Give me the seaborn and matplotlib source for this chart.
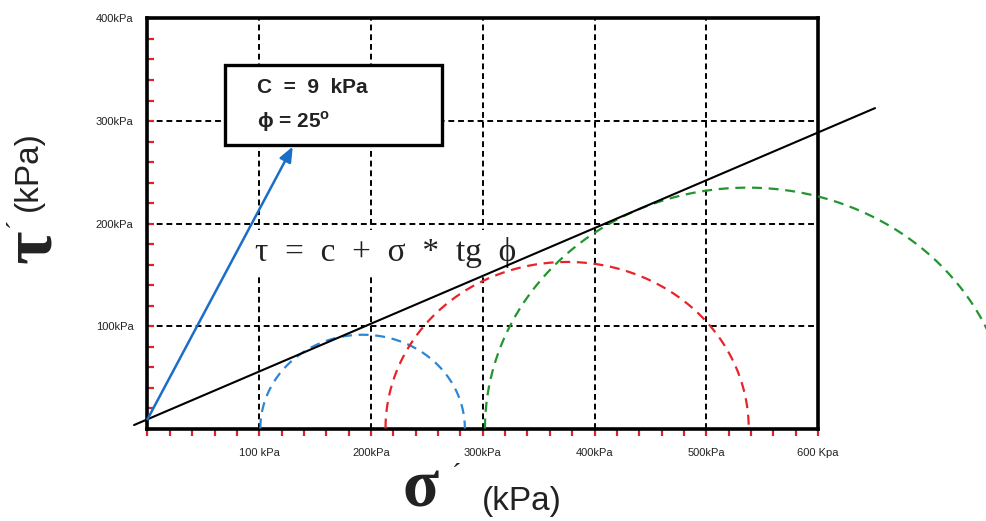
import numpy as np
import pandas as pd
import matplotlib
matplotlib.use("Agg")
import matplotlib.pyplot as plt
from matplotlib.ticker import MultipleLocator, FixedLocator
from matplotlib.patches import Rectangle
import seaborn as sns

# Mohr-Coulomb strength parameters
cohesion = 9.0          # kPa
friction_angle = 25.0   # degrees

# Triaxial tests: minor and major effective principal stresses (kPa)
sigma3 = [101, 213, 302]
sigma1 = [284, 538, 772]
test_names = ["Test 1", "Test 2", "Test 3"]
circle_colors = ["#2b86d6", "#e8232a", "#22952f"]

# Extent of the failure envelope along the sigma axis (kPa)
envelope_sigma = [-12, 651]

x_ticks = [0, 100, 200, 300, 400, 500, 600]
x_tick_labels = ["", "100 kPa", "200kPa", "300kPa", "400kPa", "500kPa", "600 Kpa"]
y_ticks = [0, 100, 200, 300, 400]
y_tick_labels = ["", "100kPa", "200kPa", "300kPa", "400kPa"]

sns.set_theme(style="white")
plt.rcParams["font.family"] = ["Liberation Sans", "DejaVu Sans"]
plt.rcParams["mathtext.fontset"] = "custom"
plt.rcParams["mathtext.rm"] = "Liberation Sans"
plt.rcParams["mathtext.sf"] = "Liberation Sans:bold"
plt.rcParams["mathtext.bf"] = "Liberation Serif:bold"

fig = plt.figure(figsize=(9.87, 5.21), dpi=100)
ax = fig.add_axes([0.1494, 0.1775, 0.6794, 0.787])

# Mohr circles (upper halves)
theta = np.linspace(0, np.pi, 181)
frames = []
for name, s3, s1 in zip(test_names, sigma3, sigma1):
    centre = (s1 + s3) / 2
    radius = (s1 - s3) / 2
    frames.append(pd.DataFrame({
        "sigma": centre - radius * np.cos(theta),
        "tau": radius * np.sin(theta),
        "test": name,
    }))
circles = pd.concat(frames, ignore_index=True)

sns.lineplot(data=circles, x="sigma", y="tau", hue="test",
             palette=dict(zip(test_names, circle_colors)),
             estimator=None, sort=False, errorbar=None, legend=False,
             linewidth=1.6, linestyle=(0, (4.5, 3)), clip_on=False,
             zorder=3, ax=ax)

# Failure envelope tau = c + sigma * tan(phi)
env = pd.DataFrame({"sigma": envelope_sigma})
env["tau"] = cohesion + env["sigma"] * np.tan(np.radians(friction_angle))
sns.lineplot(data=env, x="sigma", y="tau", color="black", linewidth=1.5,
             estimator=None, sort=False, errorbar=None, clip_on=False,
             zorder=4, ax=ax)

# Axes, grid and ticks
ax.set_xlim(0, 600)
ax.set_ylim(0, 400)
ax.set_xlabel("")
ax.set_ylabel("")
ax.xaxis.set_major_locator(FixedLocator(x_ticks))
ax.yaxis.set_major_locator(FixedLocator(y_ticks))
ax.set_xticklabels(x_tick_labels)
ax.set_yticklabels(y_tick_labels)
ax.xaxis.set_minor_locator(MultipleLocator(20))
ax.yaxis.set_minor_locator(MultipleLocator(20))
ax.set_axisbelow(True)
ax.grid(True, which="major", color="black", linestyle=(0, (3, 2)), linewidth=1.4)
ax.grid(False, which="minor")

tick_red = "#e0202a"
ax.tick_params(axis="x", which="both", bottom=True, direction="out",
               length=5, width=1.6, color=tick_red)
ax.tick_params(axis="x", which="major", labelsize=8, pad=9, labelcolor="#222222")
ax.tick_params(axis="y", which="both", left=True, direction="in",
               length=5, width=1.6, color=tick_red)
ax.tick_params(axis="y", which="major", labelsize=8, pad=10, labelcolor="#222222")

for side in ["left", "right", "top", "bottom"]:
    ax.spines[side].set_visible(True)
    ax.spines[side].set_color("black")
    ax.spines[side].set_linewidth(2.6)

# Formula of the envelope
ax.text(0.160, 0.43, "τ  =  c  +  σ  *  tg  ϕ", transform=ax.transAxes,
        family=["Liberation Serif", "DejaVu Serif"], fontsize=24,
        color="#222222", ha="left", va="center", zorder=1.5,
        bbox=dict(boxstyle="square,pad=0.2", fc="white", ec="none"))

# Parameter box
ax.add_patch(Rectangle((0.1156, 0.6915), 0.3234, 0.1951, transform=ax.transAxes,
                       fc="white", ec="black", lw=2.4, zorder=5, clip_on=False))
ax.text(0.163, 0.8305, f"C  =  {cohesion:.0f}  kPa", transform=ax.transAxes,
        fontsize=15, fontweight="bold", ha="left", va="center", zorder=6,
        color="#222222")
ax.text(0.163, 0.748, f"ϕ = {friction_angle:.0f}" + r"$^{\mathsf{o}}$",
        transform=ax.transAxes, fontsize=15, fontweight="bold",
        ha="left", va="center", zorder=6, color="#222222")

# Arrow from the cohesion intercept to the parameter box
ax.annotate("", xy=(130, 275), xytext=(0, cohesion),
            arrowprops=dict(arrowstyle="-|>,head_length=0.6,head_width=0.25",
                            color="#1a6ec8", lw=1.8, mutation_scale=15,
                            shrinkA=0, shrinkB=0),
            zorder=5, annotation_clip=False)

# Axis titles
fig.text(0.0335, 0.525, r"$\mathbf{τ}$", rotation=90, fontsize=52,
         ha="center", va="center", color="#222222")
fig.text(0.018, 0.574, "´", rotation=90, family=["Liberation Serif"], fontsize=20,
         ha="center", va="center", color="#222222")
fig.text(0.029, 0.672, "(kPa)", rotation=90, fontsize=24,
         ha="center", va="center", color="#222222")

fig.text(0.4266, 0.062, r"$\mathbf{σ}$", fontsize=48,
         ha="center", va="center", color="#222222")
fig.text(0.463, 0.088, "´", family=["Liberation Serif"], fontsize=20,
         ha="center", va="center", color="#222222")
fig.text(0.529, 0.037, "(kPa)", fontsize=24, ha="center", va="center",
         color="#222222")

fig.savefig("out.png", dpi=100, facecolor="white")
